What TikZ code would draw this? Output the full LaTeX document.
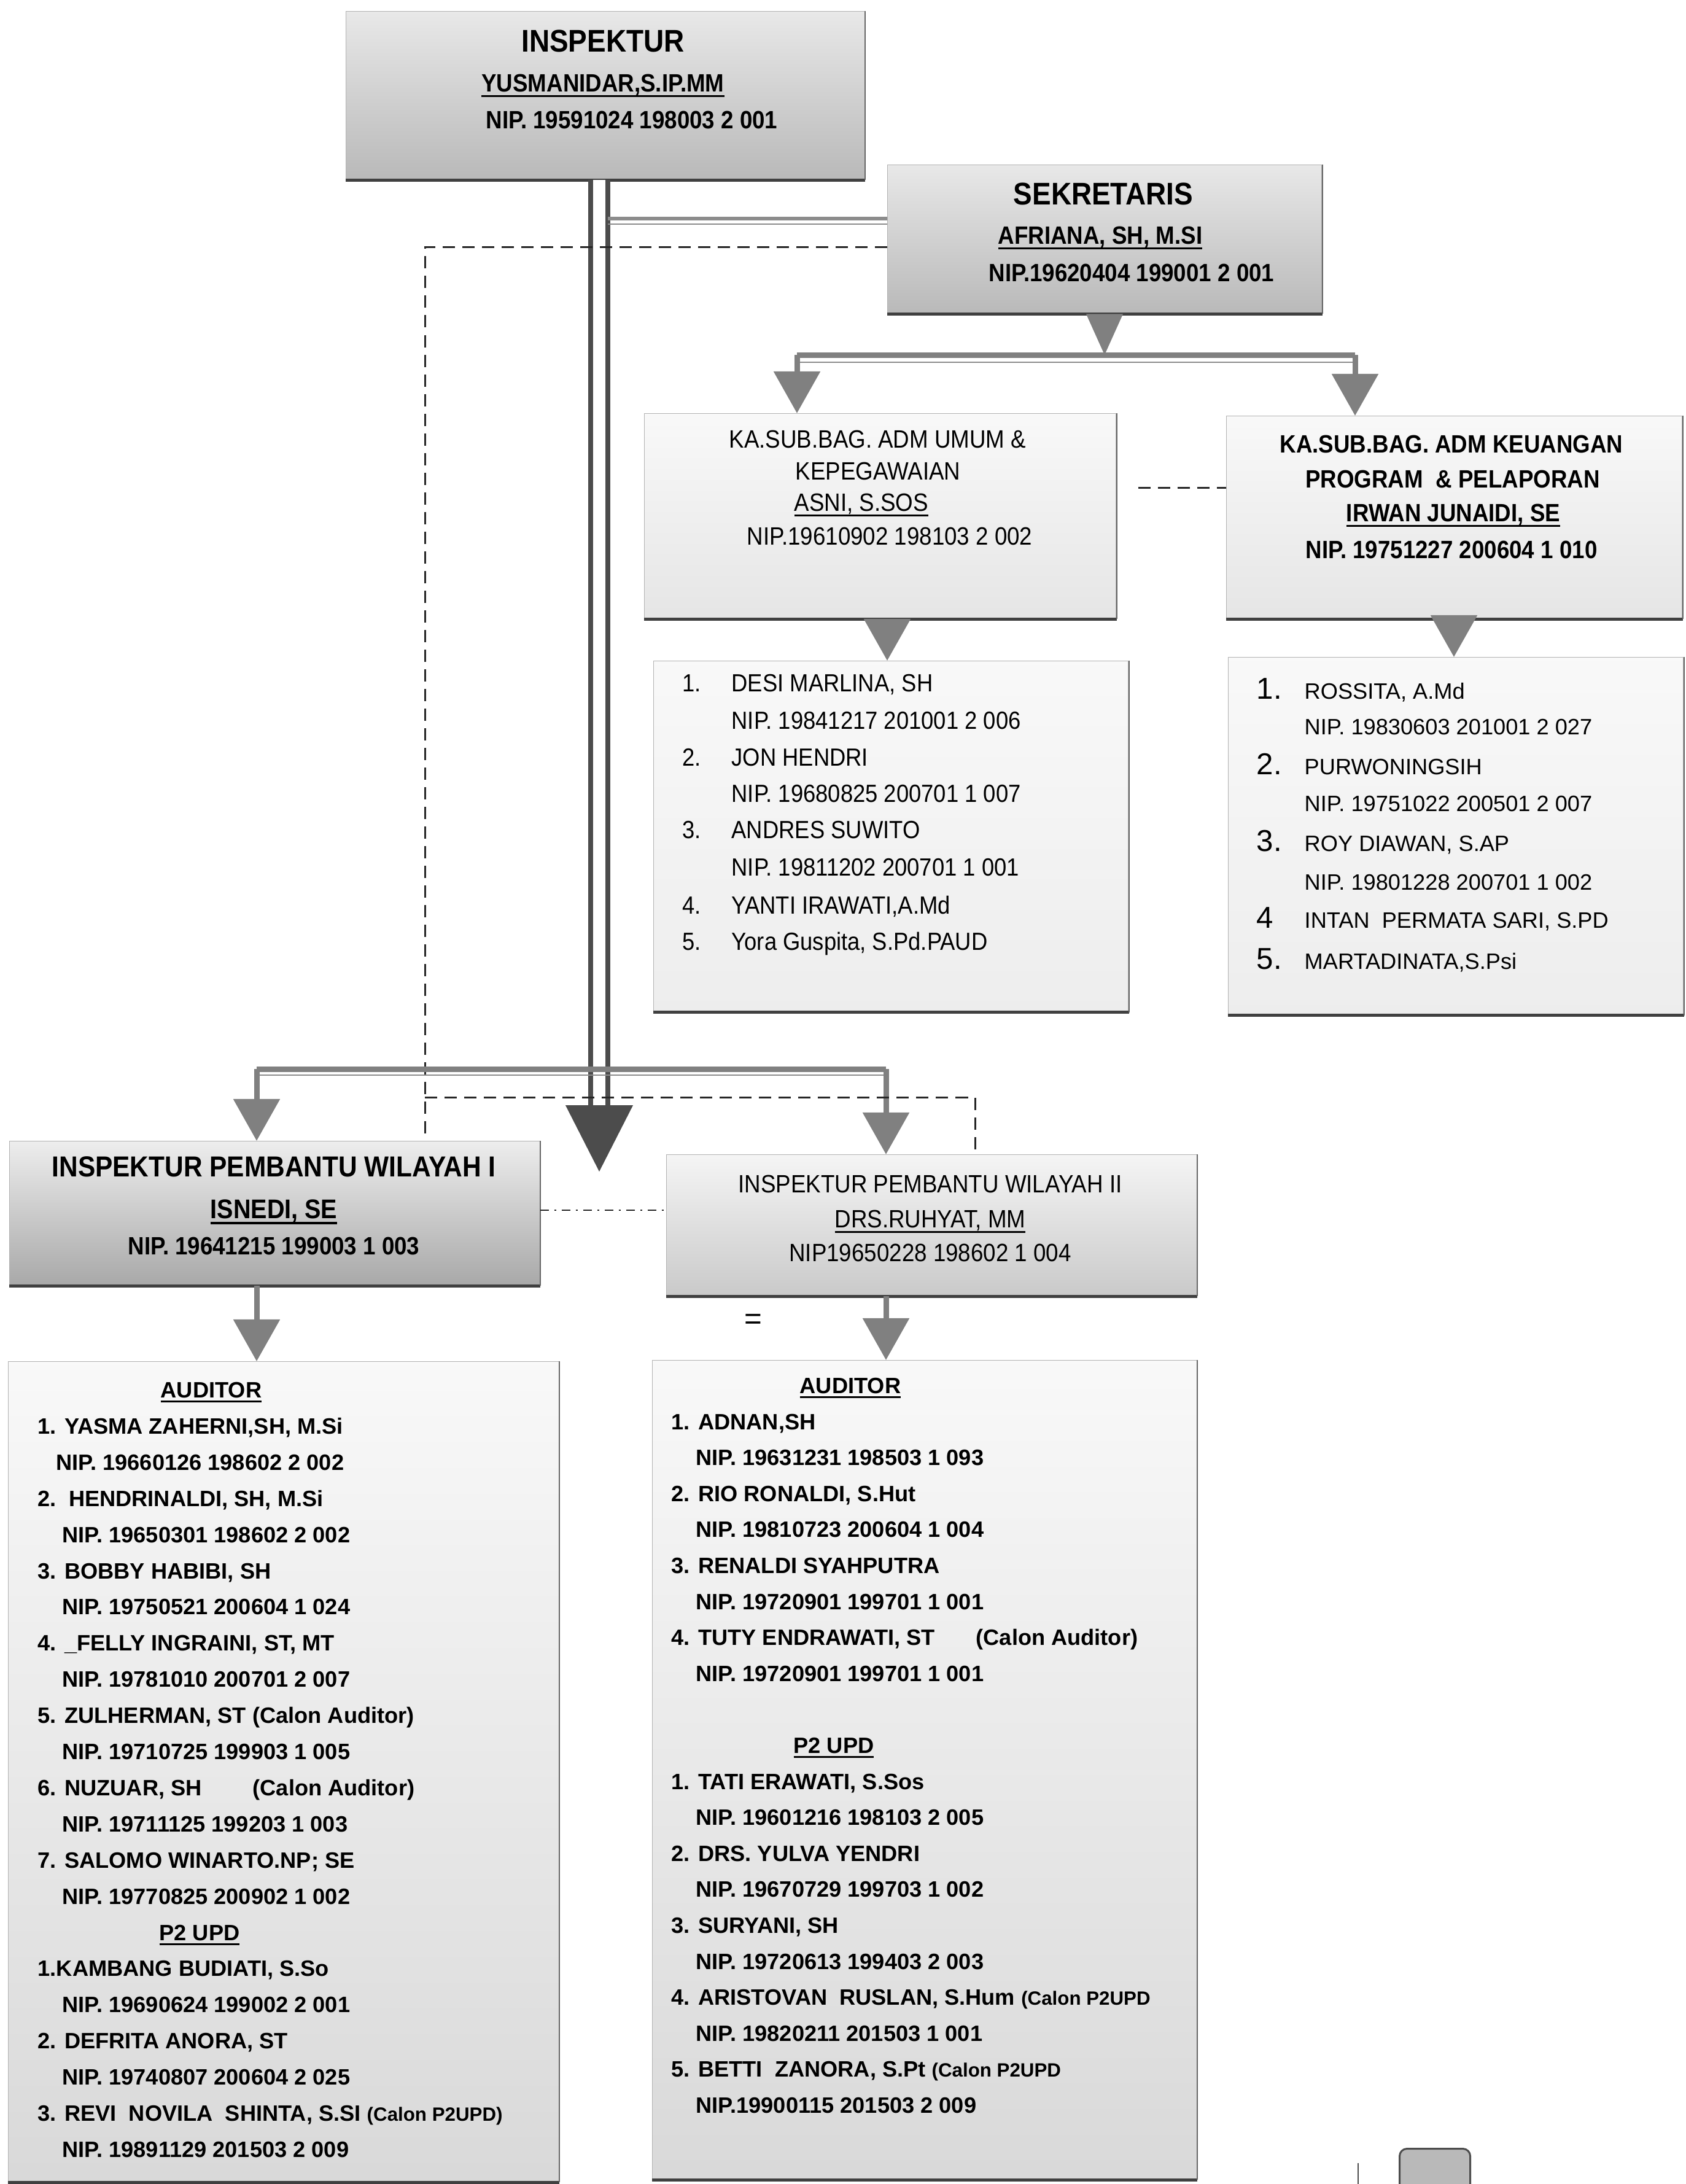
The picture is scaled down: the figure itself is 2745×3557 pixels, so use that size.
\documentclass[tikz,border=0pt]{standalone}
\usepackage{fontspec}
\setmainfont{Liberation Sans}
\newfontfamily\nf[FakeStretch=0.9]{Liberation Sans}
\usetikzlibrary{arrows.meta,calc}
\newcommand{\ulx}[1]{\leavevmode\setbox0=\hbox{#1}\rlap{\raisebox{-0.22em}{\rule{\wd0}{0.08em}}}\box0}
\newcommand{\shadowbox}[1]{%
  \draw[line width=0.05cm, black!75] (#1.south west) -- (#1.south east);
  \draw[line width=0.02cm, black!60] (#1.south east) -- (#1.north east);}
\begin{document}
\begin{tikzpicture}[x=0.01cm,y=-0.01cm,
  box/.style={draw=gray!60, line width=0.012cm, inner sep=0pt, anchor=north west},
  mainbox/.style={box, top color=gray!18, bottom color=gray!55},
  ipwone/.style={box, top color=gray!14, bottom color=gray!68},
  ipwtwo/.style={box, top color=gray!8, bottom color=gray!42},
  subbox/.style={box, top color=gray!5, bottom color=gray!20},
  listbox/.style={box, top color=gray!5, bottom color=gray!14},
  audbox/.style={box, top color=gray!5, bottom color=gray!30},
  t/.style={inner sep=0pt, anchor=mid},
  tl/.style={inner sep=0pt, anchor=mid west},
  ttlB/.style={t, font=\nf\bfseries\fontsize{14.5}{17}\selectfont},
  hB/.style={t, font=\nf\bfseries\fontsize{11.6}{14}\selectfont},
  hR/.style={t, font=\nf\fontsize{11.6}{14}\selectfont},
  hRl/.style={tl, font=\nf\fontsize{11.6}{14}\selectfont},
  lone/.style={tl, font=\nf\fontsize{11.5}{14}\selectfont},
  ltwo/.style={tl, font=\fontsize{10.3}{12}\selectfont},
  ltwon/.style={tl, font=\fontsize{14}{16}\selectfont},
  lthree/.style={tl, font=\bfseries\fontsize{10.3}{12}\selectfont},
  lthreec/.style={t, font=\bfseries\fontsize{10.3}{12}\selectfont},
  mainline/.style={draw=black!70, line width=0.08cm, double=white, double distance=0.2cm},
  gthick/.style={draw=black!50, line width=0.09cm},
  gthin/.style={draw=black!45, line width=0.025cm},
  garrow/.style={gthick, -{Triangle[width=0.74cm,length=0.68cm]}},
  dashline/.style={draw=black!85, line width=0.03cm, dash pattern=on 0.2cm off 0.12cm},
  dashdotline/.style={draw=black!85, line width=0.025cm, dash pattern=on 0.14cm off 0.09cm on 0.03cm off 0.09cm}
]
\useasboundingbox (0,0) rectangle (2745,3557);
\fill[white] (0,0) rectangle (2745,3557);

% ---------- boxes ----------
\node[mainbox, minimum width=8.44cm, minimum height=2.74cm] (insp) at (563,18) {};
\node[mainbox, minimum width=7.07cm, minimum height=2.42cm] (sek) at (1445,268) {};
\node[subbox, minimum width=7.68cm, minimum height=3.34cm] (umum) at (1049,673) {};
\node[subbox, minimum width=7.42cm, minimum height=3.30cm] (keu) at (1997,677) {};
\node[listbox, minimum width=7.73cm, minimum height=5.71cm] (list1) at (1064,1076) {};
\node[listbox, minimum width=7.41cm, minimum height=5.82cm] (list2) at (2000,1070) {};
\node[ipwone, minimum width=8.63cm, minimum height=2.35cm] (ipw1) at (15,1858) {};
\node[ipwtwo, minimum width=8.63cm, minimum height=2.30cm] (ipw2) at (1085,1880) {};
\node[audbox, minimum width=8.96cm, minimum height=13.35cm] (list3) at (13,2217) {};
\node[audbox, minimum width=8.86cm, minimum height=13.33cm] (list4) at (1062,2215) {};
\foreach \b in {insp,sek,umum,keu,list1,list2,ipw1,ipw2,list3,list4}{\shadowbox{\b}}

% ---------- connectors ----------
\coordinate (mtip) at (976,1908);
\coordinate (mbase) at (976,1800);
\draw[mainline] (insp.south -| mtip) -- (mbase);
\fill[black!70] ([xshift=-0.55cm]mbase) -- ([xshift=0.55cm]mbase) -- (mtip) -- cycle;

\coordinate (g1) at (990,356);
\draw[draw=black!45, line width=0.06cm] (g1) -- (g1 -| sek.west);
\draw[gthin] ([yshift=-0.09cm]g1) -- ([yshift=-0.09cm]g1 -| sek.west);

\coordinate (d1) at (692,402);
\draw[dashline] (d1 -| sek.west) -- (d1) -- (d1 |- ipw1.north);

\coordinate (sekJ) at (1799,578);
\coordinate (jl) at (1298,578);
\coordinate (jr) at (2207,578);
\fill[black!50] ([xshift=-0.3cm]sekJ |- sek.south) -- ([xshift=0.3cm]sekJ |- sek.south) -- (sekJ) -- cycle;
\draw[gthick] (jl) -- (jr);
\draw[gthin] ([yshift=-0.12cm]jl) -- ([yshift=-0.12cm]jr);
\draw[garrow] (jl) -- (jl |- umum.north);
\draw[garrow] (jr) -- (jr |- keu.north);

\coordinate (du) at (0,794);
\draw[dashline, shorten <=0.35cm] (umum.east |- du) -- (keu.west |- du);

\coordinate (a1) at (1445,0);
\draw[garrow] (a1 |- umum.south) -- (a1 |- list1.north);
\coordinate (a2) at (2368,0);
\draw[garrow] (a2 |- keu.south) -- (a2 |- list2.north);

\coordinate (b1) at (418,1741);
\coordinate (b2) at (1443,1741);
\draw[gthick] (b1) -- (b2);
\draw[gthin] ([yshift=-0.1cm]b1) -- ([yshift=-0.1cm]b2);
\draw[garrow] (b1) -- (b1 |- ipw1.north);
\draw[garrow] (b2) -- (b2 |- ipw2.north);

\coordinate (d2) at (692,1787);
\coordinate (d3) at (1588,1787);
\draw[dashline] (d2) -- (d3) -- (d3 |- ipw2.north);

\coordinate (dd) at (0,1971);
\draw[dashdotline] (ipw1.east |- dd) -- (ipw2.west |- dd);

\draw[garrow] (b1 |- ipw1.south) -- (b1 |- list3.north);
\draw[garrow] (b2 |- ipw2.south) -- (b2 |- list4.north);

% ---------- texts: top ----------
\node[ttlB] (inspT) at (982,75) {INSPEKTUR};
\node[hB] (inspN) at (982,140) {\ulx{YUSMANIDAR,S.IP.MM}};
\node[hB] (inspP) at (1029,200) {NIP. 19591024 198003 2 001};

\node[ttlB] (sekT) at (1797,324) {SEKRETARIS};
\node[hB] (sekN) at (1792,388) {\ulx{AFRIANA, SH, M.SI}};
\node[hB] (sekP) at (1843,449) {NIP.19620404 199001 2 001};

\node[hRl] (umumA) at (1187,720) {KA.SUB.BAG. ADM UMUM \&};
\node[hRl] (umumB) at (1295,772) {KEPEGAWAIAN};
\node[hRl] (umumC) at (1293,823) {\ulx{ASNI, S.SOS}};
\node[hRl] (umumD) at (1216,878) {NIP.19610902 198103 2 002};

\node[hB] (keuA) at (2364,728) {KA.SUB.BAG. ADM KEUANGAN};
\node[hB] (keuB) at (2366,785) {PROGRAM\ \ \& PELAPORAN};
\node[hB] (keuC) at (2367,840) {\ulx{IRWAN JUNAIDI, SE}};
\node[hB] (keuD) at (2364,900) {NIP. 19751227 200604 1 010};

% list 1
\node[lone] (n11) at (1111,1117) {1.};
\node[lone] (e11) at (1191,1117) {DESI MARLINA, SH};
\node[lone] (e12) at (1191,1178) {NIP. 19841217 201001 2 006};
\node[lone] (n12) at (1111,1238) {2.};
\node[lone] (e13) at (1191,1238) {JON HENDRI};
\node[lone] (e14) at (1191,1297) {NIP. 19680825 200701 1 007};
\node[lone] (n13) at (1111,1356) {3.};
\node[lone] (e15) at (1191,1356) {ANDRES SUWITO};
\node[lone] (e16) at (1191,1417) {NIP. 19811202 200701 1 001};
\node[lone] (n14) at (1111,1479) {4.};
\node[lone] (e17) at (1191,1479) {YANTI IRAWATI,A.Md};
\node[lone] (n15) at (1111,1538) {5.};
\node[lone] (e18) at (1191,1538) {Yora Guspita, S.Pd.PAUD};

% list 2
\node[ltwon] (n21) at (2046,1129) {1.};
\node[ltwo] (e21) at (2124,1129) {ROSSITA, A.Md};
\node[ltwo] (e22) at (2124,1187) {NIP. 19830603 201001 2 027};
\node[ltwon] (n22) at (2046,1252) {2.};
\node[ltwo] (e23) at (2124,1252) {PURWONINGSIH};
\node[ltwo] (e24) at (2124,1312) {NIP. 19751022 200501 2 007};
\node[ltwon] (n23) at (2046,1377) {3.};
\node[ltwo] (e25) at (2124,1377) {ROY DIAWAN, S.AP};
\node[ltwo] (e26) at (2124,1440) {NIP. 19801228 200701 1 002};
\node[ltwon] (n24) at (2046,1502) {4};
\node[ltwo] (e27) at (2124,1502) {INTAN\ \ PERMATA SARI, S.PD};
\node[ltwon] (n25) at (2046,1569) {5.};
\node[ltwo] (e28) at (2124,1569) {MARTADINATA,S.Psi};

% IPW I / II
\node[t, font=\nf\bfseries\fontsize{13.4}{16}\selectfont] (ipw1T) at (446,1907) {INSPEKTUR PEMBANTU WILAYAH I};
\node[t, font=\nf\bfseries\fontsize{12.5}{15}\selectfont] (ipw1N) at (446,1975) {\ulx{ISNEDI, SE}};
\node[hB] (ipw1P) at (446,2034) {NIP. 19641215 199003 1 003};

\node[hR] (ipw2T) at (1515,1933) {INSPEKTUR PEMBANTU WILAYAH II};
\node[hR] (ipw2N) at (1515,1990) {\ulx{DRS.RUHYAT, MM}};
\node[hR] (ipw2P) at (1515,2045) {NIP19650228 198602 1 004};

\node[t, font=\fontsize{14}{16}\selectfont] (eq) at (1227,2155) {=};

% list 3
\node[lthreec] (a30) at (344,2267) {\ulx{AUDITOR}};
\node[lthree] (a31) at (61,2326) {1. YASMA ZAHERNI,SH, M.Si};
\node[lthree] (a32) at (91,2385) {NIP. 19660126 198602 2 002};
\node[lthree] (a33) at (61,2444) {2.\ \ HENDRINALDI, SH, M.Si};
\node[lthree] (a34) at (101,2503) {NIP. 19650301 198602 2 002};
\node[lthree] (a35) at (61,2562) {3. BOBBY HABIBI, SH};
\node[lthree] (a36) at (101,2620) {NIP. 19750521 200604 1 024};
\node[lthree] (a37) at (61,2679) {4. \_FELLY INGRAINI, ST, MT};
\node[lthree] (a38) at (101,2738) {NIP. 19781010 200701 2 007};
\node[lthree] (a39) at (61,2797) {5. ZULHERMAN, ST (Calon Auditor)};
\node[lthree] (a310) at (101,2856) {NIP. 19710725 199903 1 005};
\node[lthree] (a311) at (61,2915) {6. NUZUAR, SH};
\node[lthree] (a311b) at (411,2915) {(Calon Auditor)};
\node[lthree] (a312) at (101,2974) {NIP. 19711125 199203 1 003};
\node[lthree] (a313) at (61,3033) {7. SALOMO WINARTO.NP; SE};
\node[lthree] (a314) at (101,3092) {NIP. 19770825 200902 1 002};
\node[lthreec] (a315) at (325,3151) {\ulx{P2 UPD}};
\node[lthree] (a316) at (61,3209) {1.KAMBANG BUDIATI, S.So};
\node[lthree] (a317) at (101,3268) {NIP. 19690624 199002 2 001};
\node[lthree] (a318) at (61,3327) {2. DEFRITA ANORA, ST};
\node[lthree] (a319) at (101,3386) {NIP. 19740807 200604 2 025};
\node[lthree] (a320) at (61,3445) {3. REVI\ \ NOVILA\ \ SHINTA, S.SI {\fontsize{8.9}{10}\selectfont (Calon P2UPD)}};
\node[lthree] (a321) at (101,3504) {NIP. 19891129 201503 2 009};

% list 4
\node[lthreec] (b40) at (1385,2260) {\ulx{AUDITOR}};
\node[lthree] (b41) at (1093,2319) {1. ADNAN,SH};
\node[lthree] (b42) at (1133,2377) {NIP. 19631231 198503 1 093};
\node[lthree] (b43) at (1093,2436) {2. RIO RONALDI, S.Hut};
\node[lthree] (b44) at (1133,2494) {NIP. 19810723 200604 1 004};
\node[lthree] (b45) at (1093,2553) {3. RENALDI SYAHPUTRA};
\node[lthree] (b46) at (1133,2612) {NIP. 19720901 199701 1 001};
\node[lthree] (b47) at (1093,2670) {4. TUTY ENDRAWATI, ST};
\node[lthree] (b47b) at (1589,2670) {(Calon Auditor)};
\node[lthree] (b48) at (1133,2729) {NIP. 19720901 199701 1 001};
\node[lthreec] (b410) at (1358,2846) {\ulx{P2 UPD}};
\node[lthree] (b411) at (1093,2905) {1. TATI ERAWATI, S.Sos};
\node[lthree] (b412) at (1133,2963) {NIP. 19601216 198103 2 005};
\node[lthree] (b413) at (1093,3022) {2. DRS. YULVA YENDRI};
\node[lthree] (b414) at (1133,3080) {NIP. 19670729 199703 1 002};
\node[lthree] (b415) at (1093,3139) {3. SURYANI, SH};
\node[lthree] (b416) at (1133,3198) {NIP. 19720613 199403 2 003};
\node[lthree] (b417) at (1093,3256) {4. ARISTOVAN\ \ RUSLAN, S.Hum {\fontsize{8.9}{10}\selectfont (Calon P2UPD}};
\node[lthree] (b418) at (1133,3315) {NIP. 19820211 201503 1 001};
\node[lthree] (b419) at (1093,3373) {5. BETTI\ \ ZANORA, S.Pt {\fontsize{8.9}{10}\selectfont (Calon P2UPD}};
\node[lthree] (b420) at (1133,3432) {NIP.19900115 201503 2 009};

% bottom-right fragment
\coordinate (v1) at (2212,3523);
\draw[black!70, line width=0.025cm] (v1) -- (2212,3557);
\node[draw=black!70, line width=0.03cm, fill=gray!55, rounded corners=0.12cm, anchor=north west, minimum width=1.15cm, minimum height=0.8cm, inner sep=0pt] (corner) at (2278,3498) {};
\end{tikzpicture}
\end{document}
